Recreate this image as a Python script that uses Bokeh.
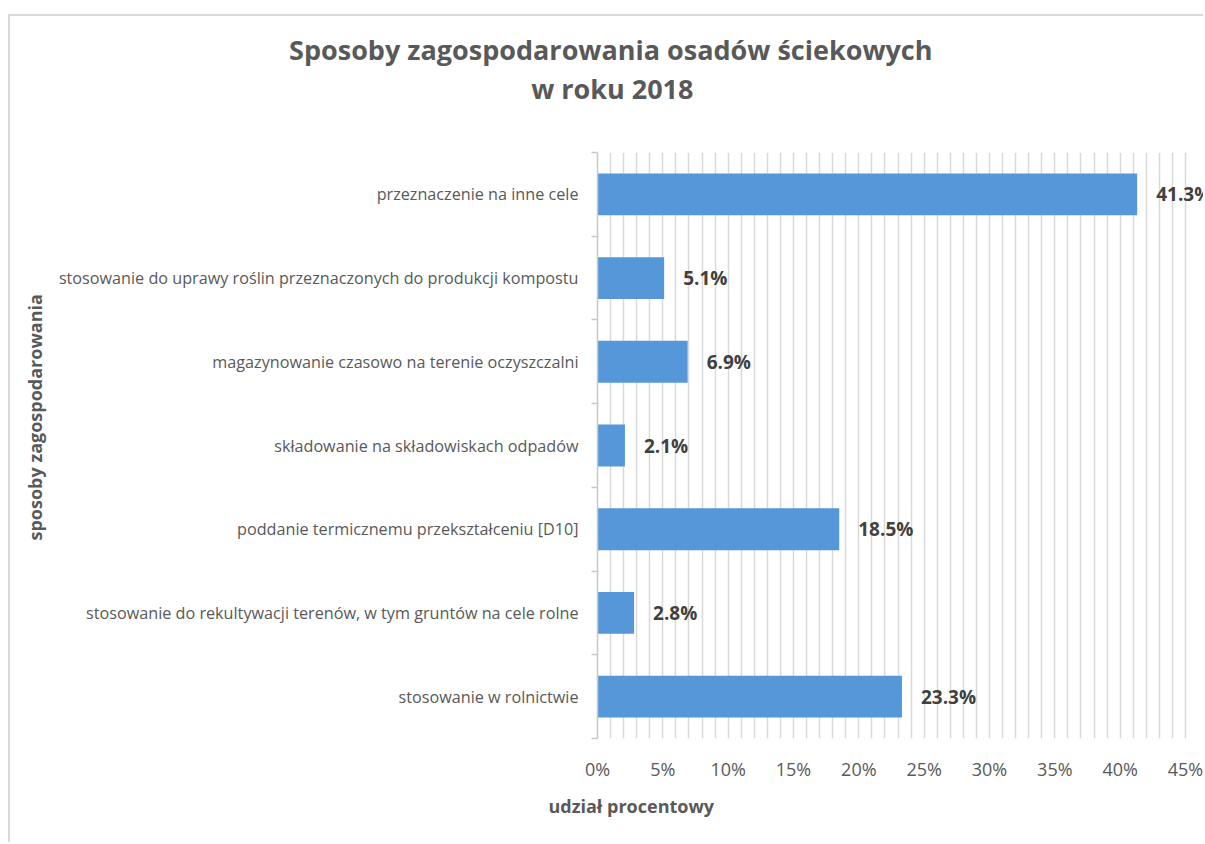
from bokeh.plotting import figure
from bokeh.models import Range1d, FixedTicker, PrintfTickFormatter, ColumnDataSource, Title
from bokeh.embed import file_html
from bokeh.resources import INLINE
from bokeh.core.properties import value

# ---- data (bottom to top) ----
categories = [
    "stosowanie w rolnictwie",
    "stosowanie do rekultywacji terenów, w tym gruntów na cele rolne",
    "poddanie termicznemu przekształceniu [D10]",
    "składowanie na składowiskach odpadów",
    "magazynowanie czasowo na terenie oczyszczalni",
    "stosowanie do uprawy roślin przeznaczonych do produkcji kompostu",
    "przeznaczenie na inne cele",
]
values = [23.3, 2.8, 18.5, 2.1, 6.9, 5.1, 41.3]
value_labels = ["23.3%", "2.8%", "18.5%", "2.1%", "6.9%", "5.1%", "41.3%"]
x_tick_values = [0, 5, 10, 15, 20, 25, 30, 35, 40, 45]
title_line1 = "Sposoby zagospodarowania osadów ściekowych"
title_line2 = "w roku 2018"
x_title = "udział procentowy"
y_title = "sposoby zagospodarowania"

FONT = "Open Sans"
positions = list(range(len(categories)))

src = ColumnDataSource(dict(y=positions, v=values, lab=value_labels))

p = figure(
    width=1195, height=828,
    x_range=Range1d(0, 45 * 608 / 588),
    y_range=Range1d(-0.5, len(categories) - 0.5),
    output_backend="svg", toolbar_location=None,
    min_border_left=587, min_border_right=0,
    min_border_top=136, min_border_bottom=106,
)
p.styles = {"border-left": "2px solid #d9d9d9", "border-top": "2px solid #d9d9d9",
            "margin-top": "14px", "margin-left": "8px"}
p.outline_line_color = None
p.background_fill_color = "white"
p.border_fill_color = "white"

# grid
p.xgrid.ticker = FixedTicker(ticks=list(range(0, 46)))
p.xgrid.grid_line_color = "#d9d9d9"
p.xgrid.grid_line_width = 1.5
p.ygrid.grid_line_color = None

# bars
p.hbar(y="y", right="v", left=0, height=0.5, source=src,
       fill_color="#5597d8", line_color=None)

# data labels
p.text(x="v", y="y", text="lab", source=src, x_offset=19,
       text_align="left", text_baseline="middle",
       text_font=value(FONT), text_font_style="bold",
       text_font_size="19px", text_color="#404040")

# x axis
xa = p.xaxis[0]
xa.ticker = FixedTicker(ticks=x_tick_values)
xa.formatter = PrintfTickFormatter(format="%d%%")
xa.axis_line_color = None
xa.major_tick_line_color = None
xa.major_tick_out = 0
xa.major_tick_in = 0
xa.minor_tick_line_color = None
xa.minor_tick_out = 0
xa.major_label_standoff = 18
xa.major_label_text_font = FONT
xa.major_label_text_font_size = "18px"
xa.major_label_text_color = "#595959"

# y axis
ya = p.yaxis[0]
ya.ticker = FixedTicker(ticks=positions,
                        minor_ticks=[i - 0.5 for i in range(len(categories) + 1)])
ya.major_label_overrides = {i: c for i, c in zip(positions, categories)}
ya.axis_line_color = "#c8c8c8"
ya.axis_line_width = 1.5
ya.major_tick_line_color = None
ya.major_tick_out = 0
ya.major_tick_in = 0
ya.minor_tick_line_color = "#c8c8c8"
ya.minor_tick_line_width = 1.5
ya.minor_tick_out = 6
ya.minor_tick_in = 0
ya.major_label_standoff = 13
ya.major_label_text_font = FONT
ya.major_label_text_font_size = "16.2px"
ya.major_label_text_color = "#595959"

# titles (above: nearest to the frame first)
p.add_layout(Title(text=" ", text_font_size="10px", standoff=32), "above")
p.add_layout(Title(text=title_line2, align="right", offset=512, vertical_align="middle",
                   standoff=0, text_font=FONT, text_font_style="bold",
                   text_font_size="27px", text_color="#595959"), "above")
p.add_layout(Title(text=title_line1, align="right", offset=273, vertical_align="middle",
                   standoff=0, text_font=FONT, text_font_style="bold",
                   text_font_size="27px", text_color="#595959"), "above")

# axis titles
p.add_layout(Title(text=x_title, align="left", offset=-49, vertical_align="middle",
                   standoff=18, text_font=FONT, text_font_style="bold",
                   text_font_size="18px", text_color="#595959"), "below")
p.add_layout(Title(text=y_title, align="left", offset=198, vertical_align="middle",
                   standoff=15, text_font=FONT, text_font_style="bold",
                   text_font_size="18px", text_color="#595959"), "left")

open("out.html", "w").write(file_html(p, INLINE))
